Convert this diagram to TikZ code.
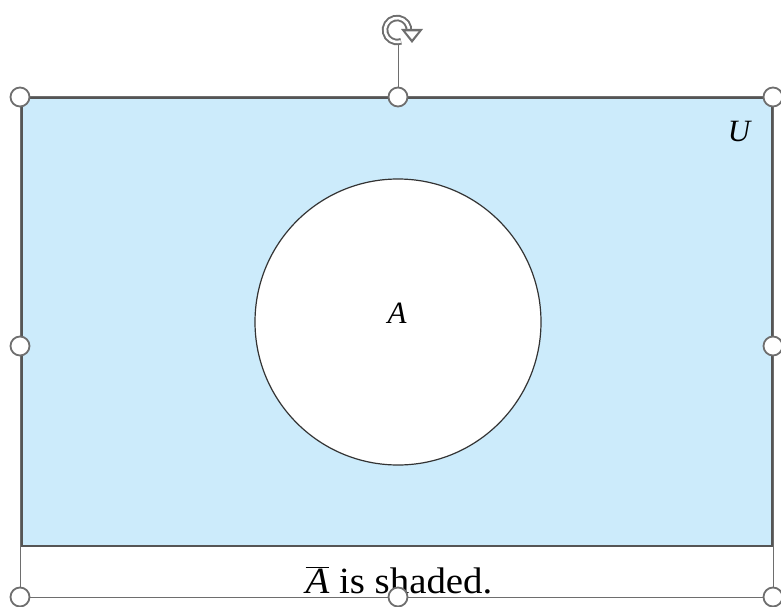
\documentclass[tikz,border=0pt]{standalone}
\usepackage{fontspec}
\setmainfont{Liberation Serif}
\usetikzlibrary{arrows.meta}
\definecolor{shade}{RGB}{204,235,251}
\definecolor{frameg}{RGB}{85,85,85}
\definecolor{selg}{RGB}{110,110,110}
\tikzset{
  handle/.style={circle, draw=selg, line width=1.8pt, fill=white, minimum size=19pt, inner sep=0pt},
  sel/.style={draw=selg, line width=1pt},
  lbl/.style={font=\fontsize{31}{31}\selectfont\itshape, inner sep=0pt}
}
\begin{document}
\begin{tikzpicture}[x=1pt,y=-1pt]
\useasboundingbox (0,0) rectangle (781,607);
% universe
\draw[fill=shade, draw=frameg, line width=2.5pt] (22,98) rectangle (772,546);
\node[circle, draw=black!80, line width=1.2pt, fill=white, minimum size=286pt, inner sep=0pt] (setA) at (398,322) {};
\node[lbl] (la) at (397,313) {A};
\node[lbl] (lu) at (739,132) {U};
% caption
\node[font=\fontsize{37}{37}\selectfont, anchor=base, inner sep=0pt, xscale=1.05] (cap) at (399,593) {$\overline{\hbox{\itshape A}}$ is shaded.};
% selection frame
\draw[sel] (20,97) rectangle (773,597);
% rotation handle
\coordinate (rtop) at (398,44);
\node[handle] (hn) at (398,97) {};
\draw[sel] (rtop) -- (hn);
\draw[draw=selg, line width=6.5pt] (397,30) ++(10:12) arc[start angle=10, end angle=-290, radius=12];
\draw[draw=white, line width=2.6pt] (397,30) ++(8:12) arc[start angle=8, end angle=-288, radius=12];
\fill[selg] (401,29) -- (423,29) -- (412,43) -- cycle;
\fill[white] (405.5,31.3) -- (418.5,31.3) -- (412,39.3) -- cycle;
% handles
\node[handle] (hnw) at (20,97) {};
\node[handle] (hne) at (773,97) {};
\node[handle] (hw) at (20,346) {};
\node[handle] (he) at (773,346) {};
\node[handle] (hsw) at (20,597) {};
\node[handle] (hs) at (398,597) {};
\node[handle] (hse) at (773,597) {};
\end{tikzpicture}
\end{document}
